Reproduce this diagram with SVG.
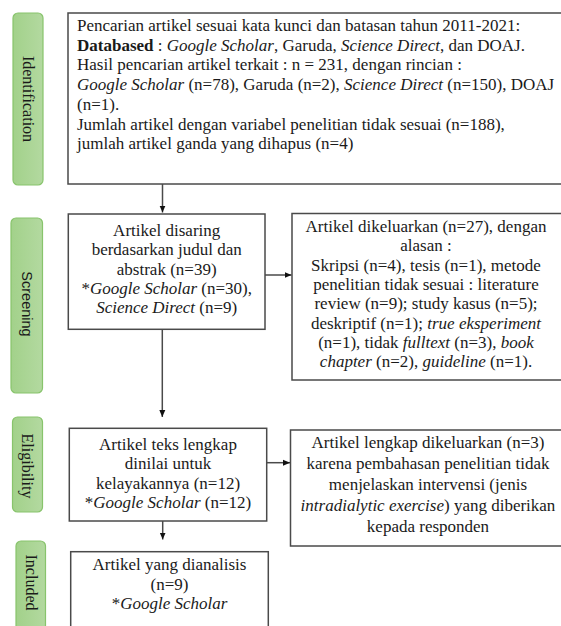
<svg xmlns="http://www.w3.org/2000/svg" width="561" height="626" viewBox="0 0 561 626">
<style>
.box{fill:#fff;stroke:#4a4a4a;stroke-width:1.5}
.lbl{fill:url(#gr);stroke:#88c46c;stroke-width:1.2}
.t{font-family:"Liberation Serif","Times New Roman",serif;font-size:17px;fill:#1a1a1a}
.c{text-anchor:middle}
.i{font-style:italic}
.lt{font-family:"Liberation Serif","Times New Roman",serif;font-size:16px;fill:#1a1a1a;text-anchor:middle;dominant-baseline:central}
.ls{font-family:"Liberation Sans",Arial,sans-serif;font-size:14.5px;fill:#1a1a1a;text-anchor:middle;dominant-baseline:central}
.con{stroke:#4a4a4a;stroke-width:1.5;fill:none;marker-end:url(#ah)}
</style>
<defs>
<linearGradient id="gr" x1="0" y1="0" x2="1" y2="0">
<stop offset="0" stop-color="#a2d18a"/>
<stop offset="1" stop-color="#b3d9a0"/>
</linearGradient>
<marker id="ah" markerUnits="userSpaceOnUse" markerWidth="8" markerHeight="8" refX="7" refY="4" orient="auto">
<path d="M0,1 L7,4 L0,7 Z" fill="#111"/>
</marker>
</defs>
<rect width="561" height="626" fill="#fff"/>

<g id="label-identification">
<rect class="lbl" x="13" y="13" width="30" height="172" rx="5"/>
<text class="lt" transform="translate(28,99) rotate(90)">Identification</text>
</g>
<g id="label-screening">
<rect class="lbl" x="11" y="218" width="31.5" height="175" rx="5"/>
<text class="ls" transform="translate(26.5,304) rotate(90)">Screening</text>
</g>
<g id="label-eligibility">
<rect class="lbl" x="12.5" y="417" width="30" height="95" rx="5"/>
<text class="lt" transform="translate(27.5,466) rotate(90)">Eligibility</text>
</g>
<g id="label-included">
<rect class="lbl" x="16" y="541" width="29.5" height="100" rx="5"/>
<text class="lt" transform="translate(31,582.5) rotate(90)">Included</text>
</g>

<g id="identification">
<rect class="box" x="68" y="13" width="500" height="171"/>
<text class="t" x="77" y="31">Pencarian artikel sesuai kata kunci dan batasan tahun 2011-2021:</text>
<text class="t" x="77" y="50.7"><tspan font-weight="bold">Databased</tspan> : <tspan class="i">Google Scholar</tspan>, Garuda, <tspan class="i">Science Direct</tspan>, dan DOAJ.</text>
<text class="t" x="77" y="70.4">Hasil pencarian artikel terkait : n = 231, dengan rincian :</text>
<text class="t" x="77" y="90.1"><tspan class="i">Google Scholar</tspan> (n=78), Garuda (n=2), <tspan class="i">Science Direct</tspan> (n=150), DOAJ</text>
<text class="t" x="77" y="109.8">(n=1).</text>
<text class="t" x="77" y="129.5">Jumlah artikel dengan variabel penelitian tidak sesuai (n=188),</text>
<text class="t" x="77" y="149.2">jumlah artikel ganda yang dihapus (n=4)</text>
</g>

<g id="screening">
<rect class="box" x="68.3" y="214" width="196.7" height="115.3"/>
<text class="t c" x="166.7" y="235.5">Artikel disaring</text>
<text class="t c" x="166.7" y="255">berdasarkan judul dan</text>
<text class="t c" x="166.7" y="274.5">abstrak (n=39)</text>
<text class="t c" x="166.7" y="293.5">*<tspan class="i">Google Scholar</tspan> (n=30),</text>
<text class="t c" x="166.7" y="312.5"><tspan class="i">Science Direct</tspan> (n=9)</text>
</g>

<g id="excluded-screening">
<rect class="box" x="292" y="213.5" width="276" height="166.5"/>
<text class="t c" x="426" y="232">Artikel dikeluarkan (n=27), dengan</text>
<text class="t c" x="426" y="251.3">alasan :</text>
<text class="t c" x="426" y="270.6">Skripsi (n=4), tesis (n=1), metode</text>
<text class="t c" x="426" y="289.9">penelitian tidak sesuai : literature</text>
<text class="t c" x="426" y="309.2">review (n=9); study kasus (n=5);</text>
<text class="t c" x="426" y="328.5">deskriptif (n=1); <tspan class="i">true eksperiment</tspan></text>
<text class="t c" x="426" y="347.8">(n=1), tidak <tspan class="i">fulltext</tspan> (n=3), <tspan class="i">book</tspan></text>
<text class="t c" x="426" y="367.1"><tspan class="i">chapter</tspan> (n=2), <tspan class="i">guideline</tspan> (n=1).</text>
</g>

<g id="eligibility">
<rect class="box" x="69.3" y="428.3" width="197.4" height="92.7"/>
<text class="t c" x="168" y="450">Artikel teks lengkap</text>
<text class="t c" x="168" y="469">dinilai untuk</text>
<text class="t c" x="168" y="488.5">kelayakannya (n=12)</text>
<text class="t c" x="168" y="507.5">*<tspan class="i">Google Scholar</tspan> (n=12)</text>
</g>

<g id="excluded-eligibility">
<rect class="box" x="290.5" y="430" width="277.5" height="116"/>
<text class="t c" x="428" y="448">Artikel lengkap dikeluarkan (n=3)</text>
<text class="t c" x="428" y="469">karena pembahasan penelitian tidak</text>
<text class="t c" x="428" y="490">menjelaskan intervensi (jenis</text>
<text class="t c" x="428" y="511"><tspan class="i">intradialytic exercise</tspan>) yang diberikan</text>
<text class="t c" x="428" y="532">kepada responden</text>
</g>

<g id="included">
<rect class="box" x="70.7" y="551.7" width="197.6" height="90"/>
<text class="t c" x="169.5" y="570">Artikel yang dianalisis</text>
<text class="t c" x="169.5" y="590">(n=9)</text>
<text class="t c" x="169.5" y="609">*<tspan class="i">Google Scholar</tspan></text>
</g>

<g id="connectors">
<path class="con" d="M162.5,184 V212.5"/>
<path class="con" d="M265,275 H291.5"/>
<path class="con" d="M162.3,329.3 V417"/>
<path class="con" d="M266.7,462.7 H290"/>
<path class="con" d="M162.7,521 V539.5"/>
</g>
</svg>
